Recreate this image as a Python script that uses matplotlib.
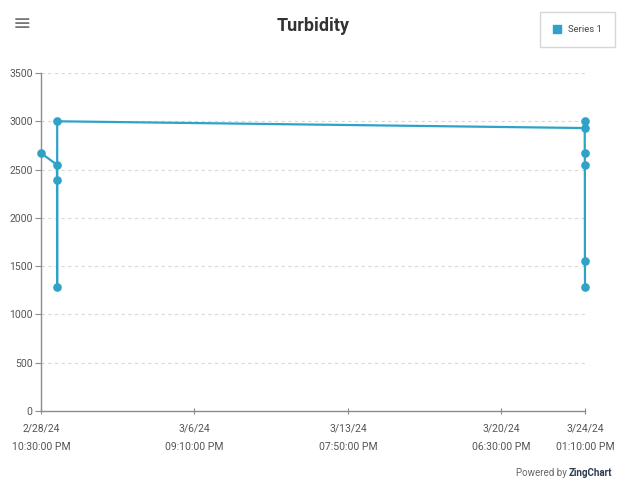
import matplotlib
matplotlib.use("Agg")
import matplotlib.pyplot as plt
import pandas as pd

# readings, in time order
times = pd.to_datetime([
    "2024-02-28 22:30", "2024-02-29 15:50", "2024-02-29 15:55",
    "2024-02-29 16:00", "2024-02-29 16:05",
    "2024-03-24 12:45", "2024-03-24 12:50", "2024-03-24 12:55",
    "2024-03-24 13:00", "2024-03-24 13:05", "2024-03-24 13:10",
])
turbidity = [2670, 2550, 2390, 1280, 3000, 2930, 3000, 2670, 2550, 1550, 1280]

tick_times = pd.to_datetime([
    "2024-02-28 22:30", "2024-03-06 21:10", "2024-03-13 19:50",
    "2024-03-20 18:30", "2024-03-24 13:10",
])
y_ticks = [0, 500, 1000, 1500, 2000, 2500, 3000, 3500]

line_color = "#2ea3c7"
axis_color = "#8c8c8c"
text_color = "#555555"

plt.rcParams["font.family"] = ["Roboto", "DejaVu Sans"]

fig = plt.figure(figsize=(6.21, 4.84), dpi=100)
ax = fig.add_axes([41 / 621, 1 - 411 / 484, (585 - 41) / 621, (411 - 73) / 484])

ax.plot(times, turbidity, color=line_color, lw=1.6, marker="o", ms=5.2,
        markerfacecolor=line_color, markeredgecolor=line_color, zorder=3,
        clip_on=False)

ax.set_xlim(tick_times[0], tick_times[-1])
ax.set_ylim(0, 3500)
ax.set_yticks(y_ticks)
ax.set_xticks(tick_times)
ax.set_xticklabels([t.strftime("%-m/%-d/%y\n%I:%M:%S %p") for t in tick_times],
                   fontsize=7.5, color=text_color, linespacing=2.1)
ax.tick_params(axis="y", labelsize=7.5, labelcolor=text_color, length=4,
               color=axis_color, pad=2)
ax.tick_params(axis="x", length=4, color=axis_color, pad=7, direction="inout")

ax.grid(axis="y", color="#d9d9d9", linestyle=(0, (3, 3)), lw=0.8)
ax.set_axisbelow(True)
for side in ["top", "right"]:
    ax.spines[side].set_visible(False)
for side in ["left", "bottom"]:
    ax.spines[side].set_color(axis_color)
    ax.spines[side].set_linewidth(1)

fig.text(313 / 621, 1 - 26 / 484, "Turbidity", ha="center", va="center",
         fontsize=13, fontweight="bold", color="#333333")
# menu icon
fig.text(22 / 621, 1 - 24 / 484, "\u2261", ha="center", va="center",
         fontsize=16, color="#777777", family="DejaVu Sans")

# legend box
leg = ax.legend(["Series 1"], loc="upper right", bbox_to_anchor=(615 / 621, 1 - 12 / 484),
                bbox_transform=fig.transFigure, borderaxespad=0, fontsize=6.8,
                frameon=True, fancybox=False, edgecolor="#cccccc",
                handlelength=0.8, handleheight=0.8, borderpad=1.4,
                handletextpad=0.8)
leg.legend_handles[0].set_marker("s")
leg.legend_handles[0].set_linestyle("none")
leg.legend_handles[0].set_markersize(6)
for t in leg.get_texts():
    t.set_color("#444444")

fig.text(567 / 621, 1 - 473 / 484, "Powered by", ha="right", va="center",
         fontsize=7, color="#666666")
fig.text(569 / 621, 1 - 473 / 484, "ZingChart", ha="left", va="center",
         fontsize=7, color="#2a3c4e", fontweight="bold")

fig.savefig("out.png", dpi=100, facecolor="white")
